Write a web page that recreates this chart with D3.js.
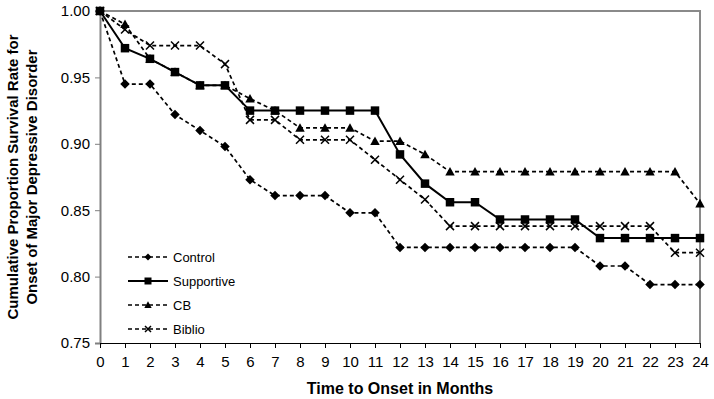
<!DOCTYPE html>
<html><head><meta charset="utf-8">
<script src="https://cdn.jsdelivr.net/npm/d3@7"></script>
<style>
html,body{margin:0;padding:0;background:#fff;}
svg{display:block;font-family:Arial,"Liberation Sans",sans-serif;}
</style></head>
<body>
<svg id="chart" width="714" height="399"></svg>
<script>
const months = [0,1,2,3,4,5,6,7,8,9,10,11,12,13,14,15,16,17,18,19,20,21,22,23,24];
const yTicks = [0.75,0.80,0.85,0.90,0.95,1.00];
const control    = [1.000,0.945,0.945,0.922,0.910,0.898,0.873,0.861,0.861,0.861,0.848,0.848,0.822,0.822,0.822,0.822,0.822,0.822,0.822,0.822,0.808,0.808,0.794,0.794,0.794];
const supportive = [1.000,0.972,0.964,0.954,0.944,0.944,0.925,0.925,0.925,0.925,0.925,0.925,0.892,0.870,0.856,0.856,0.843,0.843,0.843,0.843,0.829,0.829,0.829,0.829,0.829];
const cb         = [1.000,0.990,0.964,0.954,0.944,0.944,0.934,0.925,0.912,0.912,0.912,0.902,0.902,0.892,0.879,0.879,0.879,0.879,0.879,0.879,0.879,0.879,0.879,0.879,0.855];
const biblio     = [1.000,0.986,0.974,0.974,0.974,0.960,0.918,0.918,0.903,0.903,0.903,0.888,0.873,0.858,0.838,0.838,0.838,0.838,0.838,0.838,0.838,0.838,0.838,0.818,0.818];
const seriesNames = ["Control","Supportive","CB","Biblio"];
const xTitle = "Time to Onset in Months";
const yTitle1 = "Cumulative Proportion Survival Rate for";
const yTitle2 = "Onset of Major Depressive Disorder";

const svg = d3.select("#chart");
const L=100,R=700,T=11,B=343;
const x = d3.scaleLinear().domain([0,24]).range([L,R]);
const y = d3.scaleLinear().domain([0.75,1.0]).range([B,T]);

// plot border (top/right)
svg.append("path").attr("d",`M${L},${T}H${R}V${B}`).attr("fill","none").attr("stroke","#8a8a8a").attr("stroke-width",2);

// y axis
const ya = svg.append("g").attr("transform",`translate(${L},0)`)
  .call(d3.axisLeft(y).tickValues(yTicks).tickFormat(d3.format(".2f")).tickSize(5).tickPadding(5));
ya.select(".domain").attr("stroke","#808080").attr("stroke-width",2);
ya.selectAll(".tick line").attr("stroke","#808080").attr("stroke-width",1);
ya.selectAll(".tick text").attr("font-size",15).attr("font-family","Arial, 'Liberation Sans', sans-serif").attr("fill","#000");

// x axis
const xa = svg.append("g").attr("transform",`translate(0,${B})`)
  .call(d3.axisBottom(x).tickValues(months).tickFormat(d3.format("d")).tickSize(5).tickPadding(8).tickSizeOuter(0));
xa.select(".domain").attr("stroke","#000").attr("stroke-width",1.2);
xa.selectAll(".tick line").attr("stroke","#000");
xa.selectAll(".tick text").attr("font-size",15).attr("font-family","Arial, 'Liberation Sans', sans-serif").attr("fill","#000");

// titles
svg.append("text").attr("x",400).attr("y",394).attr("text-anchor","middle")
  .attr("font-size",16).attr("font-weight","bold").text(xTitle);
svg.append("text").attr("transform","translate(18,177) rotate(-90)").attr("text-anchor","middle")
  .attr("font-size",15).attr("font-weight","bold").text(yTitle1);
svg.append("text").attr("transform","translate(37,177) rotate(-90)").attr("text-anchor","middle")
  .attr("font-size",15).attr("font-weight","bold").text(yTitle2);

// markers
function markerPath(type, s){
  const r=s/2;
  if(type==="diamond") return `M0,${-r}L${r},0L0,${r}L${-r},0Z`;
  if(type==="square") return `M${-r},${-r}H${r}V${r}H${-r}Z`;
  if(type==="triangle") return `M0,${-r*1.05}L${r*1.05},${r*0.85}L${-r*1.05},${r*0.85}Z`;
  if(type==="x") return `M${-r},${-r}L${r},${r}M${r},${-r}L${-r},${r}`;
}
const series = [
  {name:seriesNames[0], values:control, marker:"diamond", dash:"4,3", ms:9.5},
  {name:seriesNames[2], values:cb, marker:"triangle", dash:"4,3", ms:9},
  {name:seriesNames[3], values:biblio, marker:"x", dash:"4,3", ms:8},
  {name:seriesNames[1], values:supportive, marker:"square", dash:null, ms:8.5}
];
const line = d3.line().x((d,i)=>x(months[i])).y(d=>y(d));
series.forEach(s=>{
  const g = svg.append("g");
  g.append("path").datum(s.values).attr("d",line).attr("fill","none")
    .attr("stroke","#000").attr("stroke-width",s.dash?1.7:2)
    .attr("stroke-dasharray",s.dash);
  g.selectAll("path.m").data(s.values).join("path").attr("class","m")
    .attr("transform",(d,i)=>`translate(${x(months[i])},${y(d)})`)
    .attr("d",markerPath(s.marker,s.ms))
    .attr("fill",s.marker==="x"?"none":"#000")
    .attr("stroke","#000").attr("stroke-width",s.marker==="x"?1.5:0);
});

// legend
const legendOrder = [
  {name:seriesNames[0], marker:"diamond", dash:"4,3", ms:7},
  {name:seriesNames[1], marker:"square", dash:null, ms:7},
  {name:seriesNames[2], marker:"triangle", dash:"4,3", ms:7},
  {name:seriesNames[3], marker:"x", dash:"4,3", ms:6}
];
const lg = svg.append("g");
legendOrder.forEach((s,i)=>{
  const yy = 257 + i*24;
  lg.append("line").attr("x1",128).attr("x2",168).attr("y1",yy).attr("y2",yy)
    .attr("stroke","#000").attr("stroke-width",s.dash?1.7:2).attr("stroke-dasharray",s.dash);
  lg.append("path").attr("transform",`translate(148,${yy})`).attr("d",markerPath(s.marker,s.ms))
    .attr("fill",s.marker==="x"?"none":"#000").attr("stroke","#000").attr("stroke-width",s.marker==="x"?1.5:0);
  lg.append("text").attr("x",173).attr("y",yy+5).attr("font-size",13).text(s.name);
});
</script>
</body></html>
